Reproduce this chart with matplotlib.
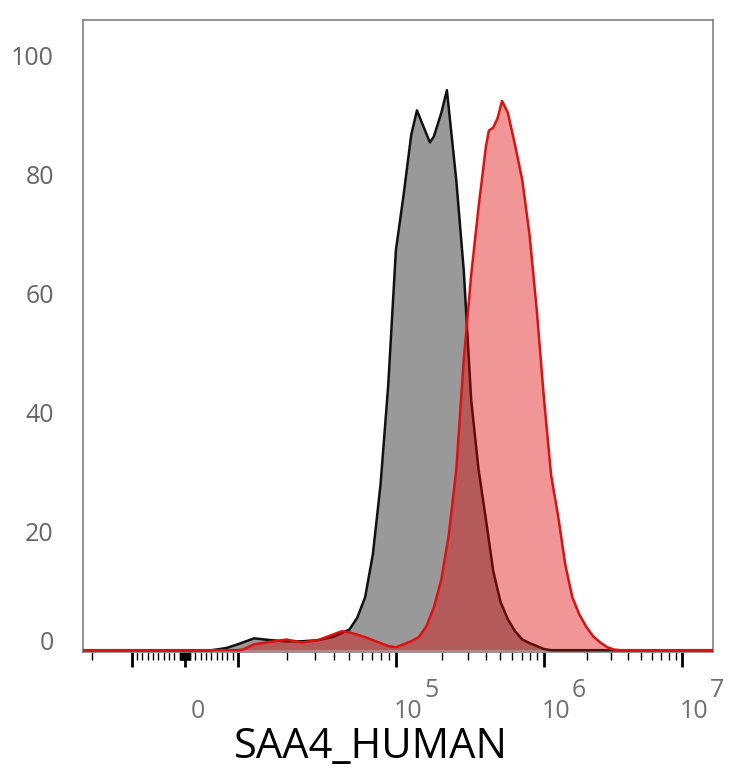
import numpy as np
import matplotlib
matplotlib.use("Agg")
import matplotlib.pyplot as plt
from matplotlib.transforms import offset_copy

# ---------------- data ----------------
# log10 of fluorescence intensity for each histogram point
gray_log = [3.70, 3.82, 3.90, 4.00, 4.10, 4.20, 4.30, 4.40, 4.50, 4.60, 4.70,
            4.75, 4.80, 4.85, 4.90, 4.95, 5.00, 5.05, 5.10, 5.138, 5.20, 5.224,
            5.25, 5.30, 5.337, 5.40, 5.45, 5.50, 5.55, 5.60, 5.65, 5.70, 5.75,
            5.80, 5.85, 5.90, 5.95, 6.00, 6.05]
gray_count = [0.0, 0.2, 0.4, 1.0, 2.0, 1.7, 1.5, 1.5, 1.7, 2.3, 3.5,
              5.5, 8.9, 16.1, 27.9, 44.6, 67.3, 76.5, 86.6, 90.8, 86.9, 85.4,
              86.4, 90.4, 94.2, 79.0, 63.9, 42.1, 30.4, 22.0, 13.3, 8.1, 5.2,
              3.2, 1.8, 1.2, 0.7, 0.2, 0.0]

red_log = [4.00, 4.03, 4.10, 4.20, 4.30, 4.40, 4.50, 4.60, 4.651, 4.70, 4.75,
           4.80, 4.85, 4.90, 4.95, 5.00, 5.05, 5.10, 5.15, 5.20, 5.25, 5.30,
           5.35, 5.40, 5.45, 5.50, 5.55, 5.60, 5.62, 5.65, 5.68, 5.71, 5.75,
           5.80, 5.85, 5.90, 5.95, 6.00, 6.05, 6.10, 6.15, 6.20, 6.25, 6.30,
           6.35, 6.40, 6.45, 6.50, 6.55]
red_count = [0.0, 0.1, 1.0, 1.4, 1.8, 1.3, 1.7, 2.7, 3.2, 3.0, 2.6,
             2.2, 1.7, 1.2, 0.7, 0.5, 1.0, 1.5, 2.2, 4.0, 7.2, 11.9,
             19.5, 30.4, 48.8, 63.1, 74.5, 84.7, 87.4, 87.9, 89.5, 92.4, 90.4,
             84.9, 79.0, 69.8, 57.2, 42.4, 29.5, 22.5, 14.4, 8.9, 6.0, 3.9,
             2.3, 1.3, 0.5, 0.1, 0.0]

x_range = [-2.33e4, 1.72e7]
y_ticks = [0, 20, 40, 60, 80, 100]
x_label = "SAA4_HUMAN"
major_ticks = [-1e4, 0, 1e4, 1e5, 1e6, 1e7]
labelled_ticks = [(0, "0", ""), (1e5, "10", "5"), (1e6, "10", "6"), (1e7, "10", "7")]

# ---------------- biexponential-like axis ----------------
def fwd(x):
    x = np.asarray(x, dtype=float)
    a = np.abs(x)
    with np.errstate(all="ignore"):
        lp = np.log10(np.maximum(a, 1e4)) - 4.0
        pos = 53.0 + 163.0 * lp - 5.0 * lp ** 2
        neg = -(53.0 + 133.0 * lp)
        return np.where(a <= 1e4, 53.0 * x / 1e4, np.where(x > 0, pos, neg))

def inv(t):
    t = np.asarray(t, dtype=float)
    with np.errstate(all="ignore"):
        d = np.clip(163.0 ** 2 - 20.0 * (np.abs(t) - 53.0), 0, None)
        up = (163.0 - np.sqrt(d)) / 10.0
        un = (np.abs(t) - 53.0) / 133.0
        return np.where(np.abs(t) <= 53.0, t / 53.0 * 1e4,
                        np.where(t > 0, 10 ** (4 + up), -10 ** (4 + un)))

gx = np.concatenate([[x_range[0]], 10 ** np.array(gray_log), [x_range[1]]])
gy = np.concatenate([[0.0], gray_count, [0.0]])
rx = np.concatenate([[x_range[0]], 10 ** np.array(red_log), [x_range[1]]])
ry = np.concatenate([[0.0], red_count, [0.0]])

fig = plt.figure(figsize=(7.34, 7.68), dpi=100)
ax = fig.add_axes([83 / 734, 116 / 768, 630 / 734, 632 / 768])
ax.set_xscale("function", functions=(fwd, inv))

ax.fill_between(gx, gy, 0, color="#999999", lw=0, zorder=2)
ax.plot(gx, gy, color="#111111", lw=1.8, zorder=3)
ax.fill_between(rx, ry, 0, color=(0.86, 0.0, 0.0), alpha=0.41, lw=0, zorder=4)
ax.plot(rx, ry, color="#e01010", lw=1.8, zorder=5)

ax.set_xlim(*x_range)
ax.set_ylim(-0.3, 106)

for s in ax.spines.values():
    s.set_color("#808080")
    s.set_linewidth(1.2)

# y ticks
ax.set_yticks(y_ticks)
ax.set_yticklabels([str(v) for v in y_ticks], fontsize=18,
                   family="Open Sans", color="#666666")
ax.tick_params(axis="y", length=0, pad=21)
ax.get_yticklabels()[0].set_va("baseline")

# x ticks
minor = []
for k in (2, 3):
    for m in range(1, 10):
        minor += [m * 10 ** k, -m * 10 ** k]
for k in (4, 5, 6):
    for m in range(2, 10):
        minor.append(m * 10 ** k)
minor.append(-2e4)
ax.set_xticks(major_ticks)
ax.set_xticklabels([""] * len(major_ticks))
ax.set_xticks(minor, minor=True)
ax.tick_params(axis="x", which="major", length=11, width=2.0, color="black",
               direction="out")
ax.tick_params(axis="x", which="minor", length=6, width=1.0, color="black",
               direction="out")

tr = ax.get_xaxis_transform()
for val, base, sup in labelled_ticks:
    if sup == "":
        t = offset_copy(tr, fig=fig, x=13, y=-66, units="dots")
        ax.text(val, 0, base, transform=t, ha="center", va="baseline",
                fontsize=18, family="Open Sans", color="#707070")
    else:
        t = offset_copy(tr, fig=fig, x=-2, y=-66, units="dots")
        ax.text(val, 0, base, transform=t, ha="left", va="baseline",
                fontsize=18, family="Open Sans", color="#707070")
        t2 = offset_copy(tr, fig=fig, x=28, y=-45, units="dots")
        ax.text(val, 0, sup, transform=t2, ha="left", va="baseline",
                fontsize=18, family="Open Sans", color="#707070")

ax.set_xlabel(x_label, fontsize=30, family="Open Sans", color="black")
ax.xaxis.set_label_coords((371 - 83) / 630, -(726 - 652) / 632)

fig.savefig("out.png", dpi=100)
